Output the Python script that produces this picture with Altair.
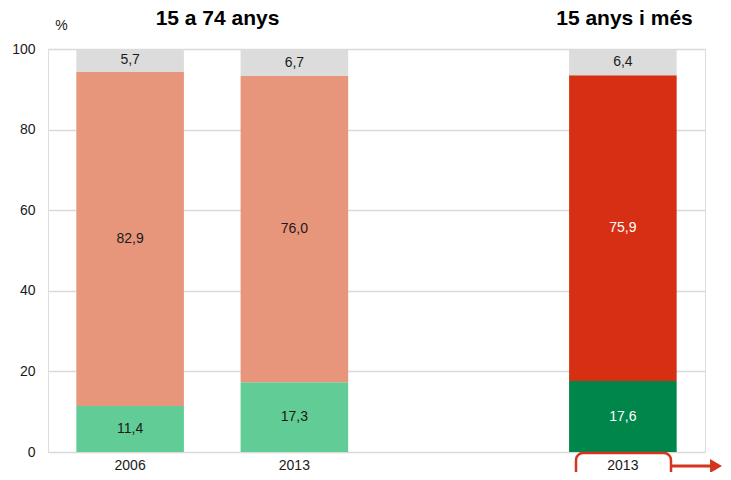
import altair as alt
import pandas as pd

# ---- data ----
slots = ["0", "1", "2", "3"]
slot_labels = ["2006", "2013", "", "2013"]
bar_slots = ["0", "1", "3"]
segments = ["verd", "mig", "gris"]
values_verd = [11.4, 17.3, 17.6]
values_mig = [82.9, 76.0, 75.9]
values_gris = [5.7, 6.7, 6.4]
group_titles = ["15 a 74 anys", "15 anys i més"]

rows = []
for i, s in enumerate(bar_slots):
    grp = "B" if s == "3" else "A"
    base = 0.0
    for seg, v in zip(segments, [values_verd[i], values_mig[i], values_gris[i]]):
        rows.append({
            "slot": s,
            "key": seg + grp,
            "y0": base,
            "y1": base + v,
            "mid": base + v / 2,
            "label": f"{v:.1f}".replace(".", ","),
            "tcol": "white" if (grp == "B" and seg != "gris") else "#1a1a1a",
        })
        base += v
df = pd.DataFrame(rows)

color_domain = ["verdA", "migA", "grisA", "verdB", "migB", "grisB"]
color_range = ["#62cc96", "#e8967b", "#dcdcdc", "#00854b", "#d62f13", "#dcdcdc"]

label_expr = "[" + ",".join(f"'{l}'" for l in slot_labels) + "][toNumber(datum.value)]"

x_enc = alt.X(
    "slot:N",
    scale=alt.Scale(domain=slots, paddingInner=0.345, paddingOuter=0.1725),
    axis=alt.Axis(title=None, labelExpr=label_expr, labelAngle=0, ticks=False,
                  domain=False, labelFontSize=14, labelColor="#1a1a1a",
                  labelPadding=6, grid=False),
)

bars = alt.Chart(df).mark_bar().encode(
    x=x_enc,
    y=alt.Y("y0:Q", scale=alt.Scale(domain=[0, 100], nice=False),
            axis=alt.Axis(title=None, values=[0, 20, 40, 60, 80, 100], ticks=False,
                          domain=False, grid=True, gridColor="#d9d9d9", gridWidth=1.3,
                          labelFontSize=14, labelColor="#1a1a1a", labelPadding=13)),
    y2="y1:Q",
    color=alt.Color("key:N", scale=alt.Scale(domain=color_domain, range=color_range), legend=None),
)

labels = alt.Chart(df).mark_text(fontSize=14, baseline="middle", align="center").encode(
    x=alt.X("slot:N"),
    y=alt.Y("mid:Q"),
    text="label:N",
    color=alt.Color("tcol:N", scale=None),
)

one = pd.DataFrame({"a": [0]})

title1 = alt.Chart(pd.DataFrame({"t": [group_titles[0]]})).mark_text(
    fontSize=21, fontWeight="bold", align="center", baseline="alphabetic", color="#000000"
).encode(x=alt.value(169.5), y=alt.value(-24), text="t:N")

title2 = alt.Chart(pd.DataFrame({"t": [group_titles[1]]})).mark_text(
    fontSize=21, fontWeight="bold", align="center", baseline="alphabetic", color="#000000"
).encode(x=alt.value(576.5), y=alt.value(-24), text="t:N")

pct = alt.Chart(pd.DataFrame({"t": ["%"]})).mark_text(
    fontSize=14, align="center", baseline="alphabetic", color="#1a1a1a"
).encode(x=alt.value(13.5), y=alt.value(-19), text="t:N")

box = alt.Chart(one).mark_rect(
    cornerRadius=7, fillOpacity=0, stroke="#d4351c", strokeWidth=2.5
).encode(x=alt.value(528), x2=alt.value(623), y=alt.value(404), y2=alt.value(445))

arrow_line = alt.Chart(one).mark_rule(color="#d4351c", strokeWidth=2.8).encode(
    x=alt.value(623), x2=alt.value(664), y=alt.value(417)
)

arrow_head = alt.Chart(one).mark_point(
    shape="M-0.85,-1L0.85,0L-0.85,1Z", filled=True, fill="#d4351c", opacity=1, size=196
).encode(x=alt.value(668), y=alt.value(417))

chart = alt.layer(bars, labels, title1, title2, pct, box, arrow_line, arrow_head).properties(
    width=657,
    height=403,
    autosize=alt.AutoSizeParams(type="none"),
    padding={"left": 40, "top": 41, "right": 18, "bottom": 20},
).configure_view(stroke=None).configure(font="Liberation Sans")

chart.save("out.html", embed_options={"renderer": "svg", "actions": False})
